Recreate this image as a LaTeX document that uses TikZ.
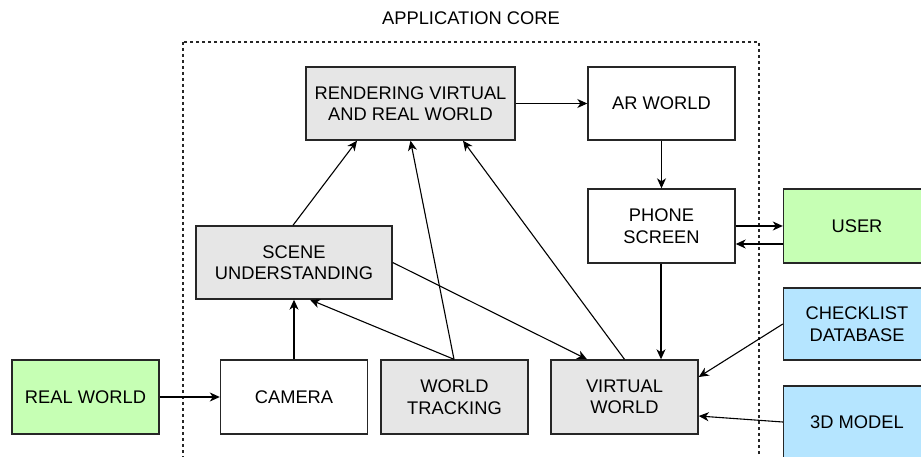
\documentclass[tikz,border=0pt]{standalone}
\usepackage{fontspec}
\setmainfont{Liberation Sans}
\usetikzlibrary{arrows.meta}
\definecolor{boxgray}{HTML}{E6E6E6}
\definecolor{boxgreen}{HTML}{C6FFB4}
\definecolor{boxblue}{HTML}{B5E5FF}
\tikzset{
  box/.style={draw=black!85, line width=1.4pt, minimum width=147pt, minimum height=73pt, align=center, inner sep=2pt, font=\fontsize{18.3}{21.5}\selectfont},
  gbox/.style={box, fill=boxgray},
  wbox/.style={box, fill=white},
  greenbox/.style={box, fill=boxgreen},
  bluebox/.style={box, fill=boxblue},
  conn/.style={line width=1.1pt, -{Stealth[length=10pt,width=9pt,inset=3pt]}},
  corebox/.style={draw=black!85, line width=1.3pt, dash pattern=on 3pt off 3pt}
}
\begin{document}
\begin{tikzpicture}[x=1pt,y=-1pt]
\path[use as bounding box, clip] (0,0) rectangle (921,457);
\fill[white] (0,0) rectangle (921,457);
\coordinate (cTL) at (183,42);
\coordinate (cBR) at (759,470);
\draw[corebox] (cTL) rectangle (cBR);
\node[font=\fontsize{18.3}{21.5}\selectfont] (title) at (471,18) {APPLICATION CORE};

\node[gbox, minimum width=209pt] (render) at (410.5,103.5) {RENDERING VIRTUAL\\AND REAL WORLD};
\node[wbox] (ar) at (661.5,103.5) {AR WORLD};
\node[wbox, minimum height=74pt] (phone) at (661.5,226) {PHONE\\SCREEN};
\node[greenbox, minimum height=74pt] (user) at (857,226) {USER};
\node[bluebox, minimum height=72pt] (check) at (857,324) {CHECKLIST\\DATABASE};
\node[bluebox, minimum height=72pt] (model) at (857,422) {3D MODEL};
\node[gbox, minimum height=74pt] (virtual) at (624.5,397) {VIRTUAL\\WORLD};
\node[gbox, minimum width=196pt] (scene) at (294,262.5) {SCENE\\UNDERSTANDING};
\node[wbox, minimum height=74pt] (camera) at (294,397) {CAMERA};
\node[gbox, minimum height=74pt] (track) at (454.5,397) {WORLD\\TRACKING};
\node[greenbox, minimum height=74pt] (real) at (85.5,397) {REAL WORLD};

\draw[conn] (render.east) -- (ar.west);
\draw[conn] (ar.south) -- (phone.north);
\draw[conn] (phone.east) -- (user.west);
\draw[conn] ([yshift=-18pt]user.west) -- ([yshift=-18pt]phone.east);
\draw[conn] ([xshift=-0.5pt]phone.south) -- ([xshift=36.5pt]virtual.north);
\draw[conn] (check.west) -- ([yshift=20pt]virtual.east);
\draw[conn] (model.west) -- ([yshift=-19pt]virtual.east);
\draw[conn] (virtual.north) -- ([xshift=52.5pt]render.south);
\draw[conn] (scene.east) -- ([xshift=-37.5pt]virtual.north);
\draw[conn] ([xshift=-0.5pt]track.north) -- ([xshift=16pt]scene.south);
\draw[conn] ([xshift=-0.5pt]track.north) -- (render.south);
\draw[conn] (camera.north) -- (scene.south);
\draw[conn] ([xshift=-1pt]scene.north) -- ([xshift=-53.5pt]render.south);
\draw[conn] (real.east) -- (camera.west);
\end{tikzpicture}
\end{document}
